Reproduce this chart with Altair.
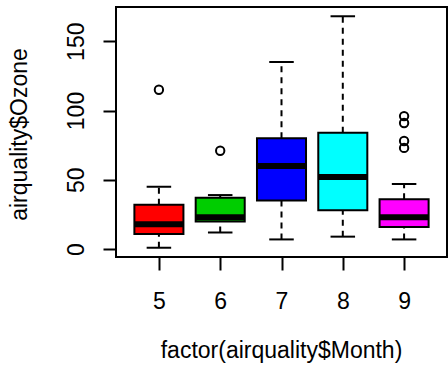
import altair as alt
import pandas as pd

months = [5, 6, 7, 8, 9]
lower_whisker = [1, 12, 7, 9, 7]
q1 = [11, 20, 35, 28, 16]
median = [18, 23, 60, 52, 23]
q3 = [32, 37, 80, 84, 36]
upper_whisker = [45, 39, 135, 168, 47]
box_colors = ["#FF0000", "#00CD00", "#0000FF", "#00FFFF", "#FF00FF"]

outlier_month = [5, 6, 9, 9, 9, 9]
outlier_value = [115, 71, 73, 78, 91, 96]

stats = pd.DataFrame({
    "month": months, "lw": lower_whisker, "q1": q1, "med": median,
    "q3": q3, "uw": upper_whisker, "color": box_colors,
})
outliers = pd.DataFrame({"month": outlier_month, "value": outlier_value})

FONT = "Liberation Sans"
FS = 23
xscale = alt.Scale(domain=[4.3, 9.7], nice=False, zero=False)
yscale = alt.Scale(domain=[-5.68, 174.68], nice=False, zero=False)

xaxis = alt.Axis(
    values=months, format="d", title="factor(airquality$Month)",
    domain=False, grid=False, tickSize=13, tickWidth=2, tickColor="black",
    labelFont=FONT, labelFontSize=FS, labelColor="black", labelPadding=20,
    labelBaseline="top",
    titleFont=FONT, titleFontSize=FS, titleFontWeight="normal", titleColor="black",
    titleX=165, titleY=100, titleAlign="center", titleBaseline="alphabetic",
)
yaxis = alt.Axis(
    values=[0, 50, 100, 150], format="d", title="airquality$Ozone",
    domain=False, grid=False, tickSize=13, tickWidth=2, tickColor="black",
    labelFont=FONT, labelFontSize=FS, labelColor="black", labelPadding=20,
    labelAngle=270, labelAlign="center", labelBaseline="alphabetic",
    titleFont=FONT, titleFontSize=FS, titleFontWeight="normal", titleColor="black",
    titleAngle=270, titleX=-90, titleY=127, titleAlign="center", titleBaseline="alphabetic",
)

base = alt.Chart(stats).transform_calculate(
    bx0="datum.month - 0.4", bx1="datum.month + 0.4",
    cx0="datum.month - 0.2", cx1="datum.month + 0.2",
)

whisk_lo = base.mark_rule(color="black", strokeWidth=2, strokeDash=[6, 5]).encode(
    x=alt.X("month:Q", scale=xscale, axis=xaxis),
    y=alt.Y("lw:Q", scale=yscale, axis=yaxis), y2="q1:Q",
)
whisk_hi = base.mark_rule(color="black", strokeWidth=2, strokeDash=[6, 5]).encode(
    x=alt.X("month:Q", scale=xscale), y=alt.Y("q3:Q", scale=yscale), y2="uw:Q",
)
cap_lo = base.mark_rule(color="black", strokeWidth=2).encode(
    x=alt.X("cx0:Q", scale=xscale), x2="cx1:Q", y=alt.Y("lw:Q", scale=yscale),
)
cap_hi = base.mark_rule(color="black", strokeWidth=2).encode(
    x=alt.X("cx0:Q", scale=xscale), x2="cx1:Q", y=alt.Y("uw:Q", scale=yscale),
)
boxes = base.mark_rect(stroke="black", strokeWidth=2).encode(
    x=alt.X("bx0:Q", scale=xscale), x2="bx1:Q",
    y=alt.Y("q1:Q", scale=yscale), y2="q3:Q",
    fill=alt.Fill("color:N", scale=None),
)
meds = base.mark_rule(color="black", strokeWidth=6).encode(
    x=alt.X("bx0:Q", scale=xscale), x2="bx1:Q", y=alt.Y("med:Q", scale=yscale),
)
pts = alt.Chart(outliers).mark_point(
    shape="circle", filled=False, color="black", size=70, strokeWidth=2, opacity=1
).encode(
    x=alt.X("month:Q", scale=xscale), y=alt.Y("value:Q", scale=yscale),
)

chart = alt.layer(whisk_lo, whisk_hi, cap_lo, cap_hi, boxes, meds, pts).properties(
    width=331, height=250,
    autosize=alt.AutoSizeParams(type="none"),
    padding={"left": 116, "top": 7, "right": 1, "bottom": 113},
    background="white",
).configure_view(stroke="black", strokeWidth=2)

chart.save("out.html", embed_options={"renderer": "svg", "actions": False})
